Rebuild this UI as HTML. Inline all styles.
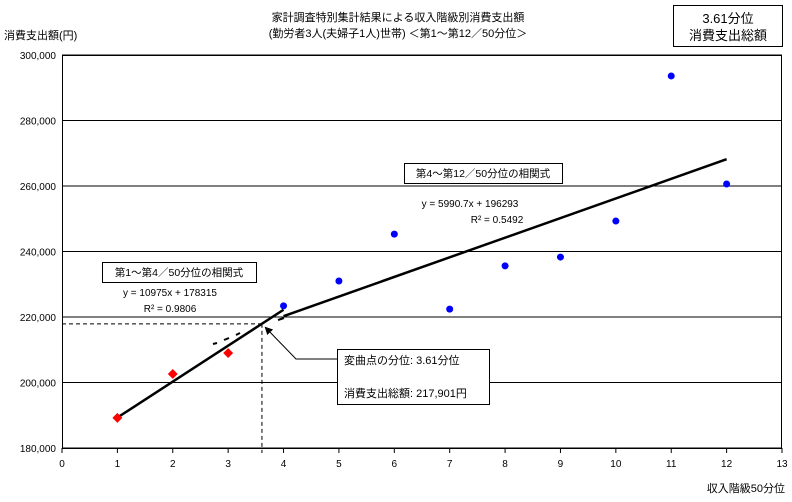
<!DOCTYPE html>
<html><head><meta charset="utf-8"><style>
body{margin:0;background:#fff;}
svg text{font-family:"Liberation Sans","Noto Sans CJK JP",sans-serif;fill:#000;}
</style></head><body>
<svg width="792" height="497" viewBox="0 0 792 497">
<defs><marker id="ah" markerWidth="8" markerHeight="8" refX="6" refY="4" orient="auto"><path d="M0,0 L8,4 L0,8 z" fill="#000"/></marker></defs>
<text x="398" y="21" font-size="11" text-anchor="middle">家計調査特別集計結果による収入階級別消費支出額</text>
<text x="398" y="37" font-size="11" text-anchor="middle">(勤労者3人(夫婦子1人)世帯) ＜第1～第12／50分位＞</text>
<text x="4" y="39" font-size="11">消費支出額(円)</text>
<g><rect x="673.5" y="5.5" width="109" height="41" fill="#fff" stroke="#000"/>
<text x="728" y="23" font-size="13" text-anchor="middle">3.61分位</text>
<text x="728" y="40" font-size="13" text-anchor="middle">消費支出総額</text></g>
<g id="grid"></g><g id="axes"></g><g id="marks"></g>
<text x="785" y="492" font-size="11" text-anchor="end">収入階級50分位</text>
<g><rect x="102.5" y="262.5" width="154" height="20" fill="#fff" stroke="#000"/>
<text x="179" y="276" font-size="10.5" text-anchor="middle">第1～第4／50分位の相関式</text>
<text x="170" y="296" font-size="10" text-anchor="middle">y = 10975x + 178315</text>
<text x="170" y="312" font-size="10" text-anchor="middle">R² = 0.9806</text></g>
<g><rect x="404.5" y="163.5" width="158" height="20" fill="#fff" stroke="#000"/>
<text x="483" y="177" font-size="10.5" text-anchor="middle">第4～第12／50分位の相関式</text>
<text x="470" y="207" font-size="10" text-anchor="middle">y = 5990.7x + 196293</text>
<text x="497" y="223" font-size="10" text-anchor="middle">R² = 0.5492</text></g>
<g stroke="#000" stroke-width="2">
<line x1="213" y1="344" x2="217" y2="343"/><line x1="224" y1="340" x2="229" y2="338"/><line x1="236" y1="335" x2="240" y2="333"/><line x1="278" y1="320" x2="284" y2="318"/></g>
<g>
<polyline points="337,359 296,359 266,328" fill="none" stroke="#000" marker-end="url(#ah)"/>
<rect x="337.5" y="349.5" width="152" height="55" fill="#fff" stroke="#000"/>
<text x="344" y="364" font-size="11">変曲点の分位: 3.61分位</text>
<text x="344" y="397" font-size="11">消費支出総額: 217,901円</text></g>
</svg>
<script>
const xCats=[1,2,3,4,5,6,7,8,9,10,11,12];
const spend=[189200,202600,209000,223400,231000,245300,222400,235600,238300,249300,293600,260600];
const yTicks=[180000,200000,220000,240000,260000,280000,300000];
const xTicks=[0,1,2,3,4,5,6,7,8,9,10,11,12,13];
const fit1=[10975,178315], fit2=[5990.7,196293];
const inflX=3.61, inflY=217901;
const L=62,R=782,T=55,B=448;
const X=v=>L+(R-L)*v/13, Y=v=>B-(B-T)*(v-180000)/120000;
const NS="http://www.w3.org/2000/svg";
function mk(p,t,a){const e=document.createElementNS(NS,t);for(const k in a)e.setAttribute(k,a[k]);document.getElementById(p).appendChild(e);return e;}
yTicks.forEach(v=>{
 const l=mk('grid','line',{x1:L,x2:R,y1:Y(v),y2:Y(v),stroke:'#000'});
 
 
 const t=mk('axes','text',{x:L-6,y:Y(v)+4,'font-size':10,'text-anchor':'end'});t.textContent=v.toLocaleString('en-US');
 
 
});
mk('axes','rect',{x:L+.5,y:T+.5,width:R-L-1,height:B-T,fill:'none',stroke:'#000'});
xTicks.forEach(v=>{
 mk('axes','line',{x1:X(v),x2:X(v),y1:B,y2:B+5,stroke:'#000'});
 const t=mk('axes','text',{x:X(v),y:B+19,'font-size':10,'text-anchor':'middle'});t.textContent=v;
 
 
});
let d=mk('marks','line',{x1:L,x2:X(inflX),y1:Y(inflY),y2:Y(inflY),stroke:'#000','stroke-dasharray':'4,3'});


d=mk('marks','line',{x1:X(inflX),x2:X(inflX),y1:Y(inflY),y2:B+5,stroke:'#000','stroke-dasharray':'4,3'});


const f=(c,x)=>c[0]*x+c[1];
let t1=mk('marks','line',{x1:X(1),y1:Y(f(fit1,1)),x2:X(4),y2:Y(f(fit1,4)),stroke:'#000','stroke-width':2.5});


let t2=mk('marks','line',{x1:X(4),y1:Y(f(fit2,4)),x2:X(12),y2:Y(f(fit2,12)),stroke:'#000','stroke-width':2.5});


xCats.forEach((c,i)=>{
 const x=X(c),y=Y(spend[i]);let m;
 if(c<4){m=mk('marks','rect',{x:x-3.5,y:y-3.5,width:7,height:7,fill:'#f00',transform:`rotate(45 ${x} ${y})`});}
 else{m=mk('marks','circle',{cx:x,cy:y,r:3.5,fill:'#00f'});}
 
 
});
</script>
</body></html>
